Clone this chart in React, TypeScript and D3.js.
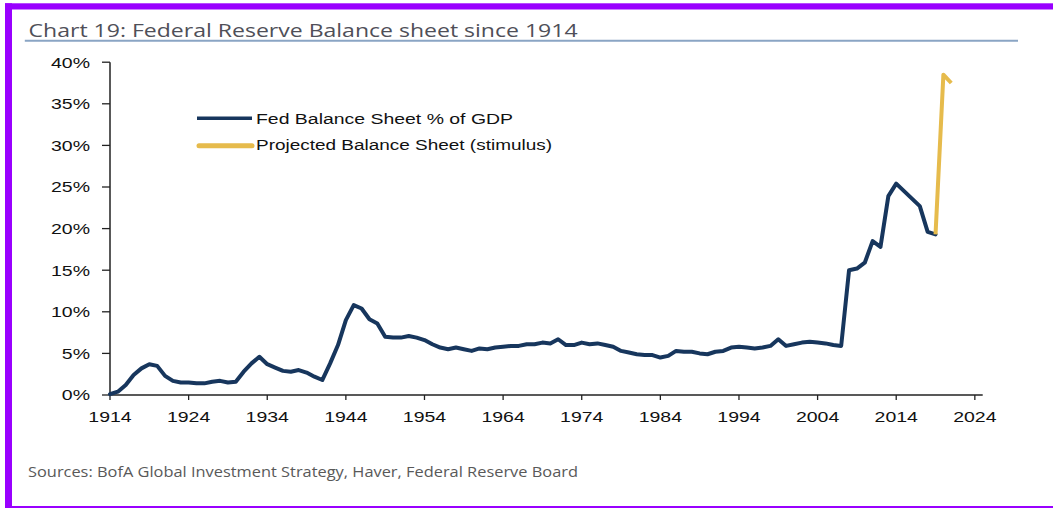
import React from "react";
import * as d3 from "d3";

// ---- data (Fed balance sheet, % of GDP, yearly from 1914) ----
const fedYears: number[] = d3.range(1914, 2020);
const fedPct: number[] = [
  // 1914-1923
  0.1, 0.4, 1.2, 2.4, 3.2, 3.7, 3.5, 2.3, 1.7, 1.5,
  // 1924-1933
  1.5, 1.4, 1.4, 1.6, 1.7, 1.5, 1.6, 2.8, 3.8, 4.6,
  // 1934-1943
  3.7, 3.3, 2.9, 2.8, 3.0, 2.7, 2.2, 1.8, 3.8, 6.0,
  // 1944-1953
  9.0, 10.8, 10.4, 9.1, 8.6, 7.0, 6.9, 6.9, 7.1, 6.9,
  // 1954-1963
  6.6, 6.1, 5.7, 5.5, 5.7, 5.5, 5.3, 5.6, 5.5, 5.7,
  // 1964-1973
  5.8, 5.9, 5.9, 6.1, 6.1, 6.3, 6.2, 6.7, 6.0, 6.0,
  // 1974-1983
  6.3, 6.1, 6.2, 6.0, 5.8, 5.3, 5.1, 4.9, 4.8, 4.8,
  // 1984-1993
  4.5, 4.7, 5.3, 5.2, 5.2, 5.0, 4.9, 5.2, 5.3, 5.7,
  // 1994-2003
  5.8, 5.7, 5.6, 5.7, 5.9, 6.7, 5.9, 6.1, 6.3, 6.4,
  // 2004-2013
  6.3, 6.2, 6.0, 5.9, 15.0, 15.2, 15.9, 18.5, 17.8, 23.9,
  // 2014-2019
  25.4, 24.5, 23.6, 22.7, 19.6, 19.3,
];
const projYears: number[] = [2019, 2020, 2021];
const projPct: number[] = [19.3, 38.5, 37.5];

const yTicks: number[] = [0, 5, 10, 15, 20, 25, 30, 35, 40];
const xTicks: number[] = [1914, 1924, 1934, 1944, 1954, 1964, 1974, 1984, 1994, 2004, 2014, 2024];

const seriesNames: string[] = ["Fed Balance Sheet % of GDP", "Projected Balance Sheet (stimulus)"];
const titleText = "Chart 19: Federal Reserve Balance sheet since 1914";
const sourceText = "Sources: BofA Global Investment Strategy, Haver, Federal Reserve Board";

const NAVY = "#17365d";
const GOLD = "#e6bb4c";
const PURPLE = "#9900ff";
const ARIAL = "'Liberation Sans', Arial, Helvetica, sans-serif";
const HUMAN = "'Open Sans', 'Noto Sans', sans-serif";

type TProps = {
  x: number;
  y: number;
  anchor?: "start" | "middle" | "end";
  size?: number;
  sx?: number;
  fill?: string;
  children: React.ReactNode;
};
const StretchText = ({ x, y, anchor = "start", size = 15, sx = 1.3, fill = "#111", children }: TProps) => (
  <text
    transform={`translate(${x},${y}) scale(${sx},1)`}
    textAnchor={anchor}
    fontFamily={ARIAL}
    fontSize={size}
    fill={fill}
  >
    {children}
  </text>
);

export default function App() {
  const W = 1053;
  const H = 508;
  const x = d3.scaleLinear().domain([1914, 2025]).range([110, 982.7]);
  const y = d3.scaleLinear().domain([0, 40]).range([395, 62.2]);

  const line = d3
    .line<[number, number]>()
    .x((d) => x(d[0]))
    .y((d) => y(d[1]));

  const fedData: [number, number][] = fedYears.map((yr, i) => [yr, fedPct[i]]);
  const projData: [number, number][] = projYears.map((yr, i) => [yr, projPct[i]]);

  return (
    <div style={{ position: "absolute", left: 0, top: 0 }}>
      <svg width={W} height={H} style={{ display: "block", background: "#fff" }}>
        <rect x={0} y={0} width={W} height={H} fill="#fff" />
        {/* frame */}
        <rect x={5} y={3.3} width={W - 5} height={6.2} fill={PURPLE} />
        <rect x={5} y={3.3} width={7} height={H - 3.3} fill={PURPLE} />
        <rect x={5} y={506} width={W - 5} height={2} fill={PURPLE} />

        {/* title */}
        <text
          x={28.6}
          y={36.7}
          fontFamily={HUMAN}
          fontSize={19}
          fill="#4f4f58"
          textLength={549}
          lengthAdjust="spacingAndGlyphs"
        >
          {titleText}
        </text>
        <line x1={24.8} x2={1018} y1={40.7} y2={40.7} stroke="#8aa5c4" strokeWidth={2} />

        {/* y axis */}
        <line x1={110} x2={110} y1={y(40)} y2={y(0)} stroke="#222" strokeWidth={1.5} />
        {yTicks.map((t) => (
          <g key={"y" + t}>
            <line x1={102} x2={110} y1={y(t)} y2={y(t)} stroke="#222" strokeWidth={1.3} />
            <StretchText x={90} y={y(t) + 5.3} anchor="end">
              {t + "%"}
            </StretchText>
          </g>
        ))}

        {/* x axis */}
        <line x1={110} x2={982.7} y1={y(0)} y2={y(0)} stroke="#222" strokeWidth={1.5} />
        {xTicks.map((t) => (
          <g key={"x" + t}>
            <line x1={x(t)} x2={x(t)} y1={y(0)} y2={y(0) + 5} stroke="#222" strokeWidth={1.3} />
            <StretchText x={x(t)} y={421.5} anchor="middle">
              {String(t)}
            </StretchText>
          </g>
        ))}

        {/* series */}
        <path
          d={line(fedData) || ""}
          fill="none"
          stroke={NAVY}
          strokeWidth={4}
          strokeLinejoin="round"
          strokeLinecap="round"
        />
        <path
          d={line(projData) || ""}
          fill="none"
          stroke={GOLD}
          strokeWidth={4}
          strokeLinejoin="round"
          strokeLinecap="butt"
        />

        {/* legend */}
        <line x1={197} x2={252} y1={118.3} y2={118.3} stroke={NAVY} strokeWidth={3.5} />
        <text
          x={256}
          y={124}
          fontFamily={ARIAL}
          fontSize={15.5}
          fill="#111"
          textLength={257}
          lengthAdjust="spacingAndGlyphs"
        >
          {seriesNames[0]}
        </text>
        <line x1={199} x2={252} y1={145.7} y2={145.7} stroke={GOLD} strokeWidth={5} strokeLinecap="round" />
        <text
          x={256}
          y={150}
          fontFamily={ARIAL}
          fontSize={15.5}
          fill="#111"
          textLength={296}
          lengthAdjust="spacingAndGlyphs"
        >
          {seriesNames[1]}
        </text>

        {/* source */}
        <text
          x={28}
          y={476.5}
          fontFamily={HUMAN}
          fontSize={14}
          fill="#595959"
          textLength={550}
          lengthAdjust="spacingAndGlyphs"
        >
          {sourceText}
        </text>
      </svg>
    </div>
  );
}
